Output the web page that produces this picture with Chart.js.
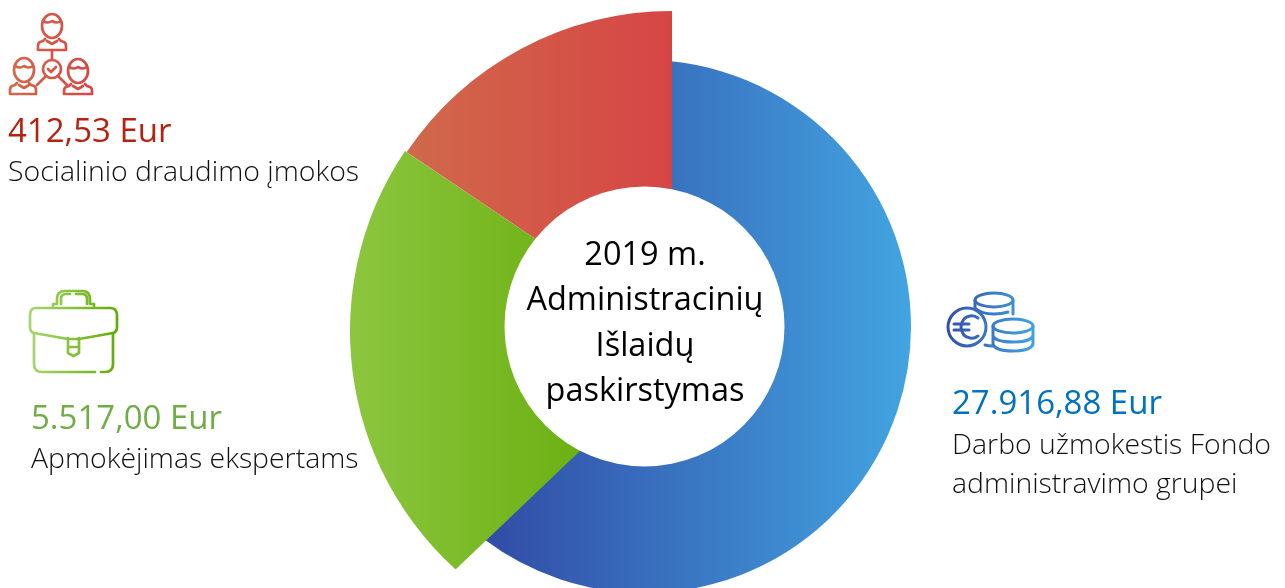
<!DOCTYPE html>
<html lang="lt">
<head>
<meta charset="utf-8">
<title>2019 m. Administracinių Išlaidų paskirstymas</title>
<script src="https://cdn.jsdelivr.net/npm/chart.js@4"></script>
<style>
html,body{margin:0;padding:0;background:#fff;overflow:hidden}
#stage{position:relative;width:1285px;height:588px;overflow:hidden}
canvas{position:absolute;left:0;top:0}
svg{position:absolute;left:0;top:0}
.t{position:absolute;white-space:nowrap;line-height:1;font-family:"Open Sans",sans-serif}
.amt{font-size:33px;font-weight:400}
.desc{font-size:28.4px;font-weight:300;color:#111}
.ctr{font-size:32.5px;font-weight:400;color:#000;text-align:center;width:280px;left:505px}
</style>
</head>
<body>
<div id="stage">
<canvas id="c" width="1285" height="588"></canvas>
<svg width="1285" height="588" fill="none" stroke-linecap="round" stroke-linejoin="round">
<defs>
<linearGradient id="gr" gradientUnits="userSpaceOnUse" x1="10" x2="94" y1="0" y2="0"><stop offset="0" stop-color="#d2694b"/><stop offset="1" stop-color="#d64545"/></linearGradient>
<linearGradient id="gg" gradientUnits="userSpaceOnUse" x1="30" x2="117" y1="0" y2="0"><stop offset="0" stop-color="#a8d66e"/><stop offset="1" stop-color="#62ac08"/></linearGradient>
<linearGradient id="gb" gradientUnits="userSpaceOnUse" x1="947" x2="1034" y1="0" y2="0"><stop offset="0" stop-color="#3350a8"/><stop offset="1" stop-color="#42a3e0"/></linearGradient>
</defs>
<g stroke="url(#gr)" stroke-width="2.7">
<ellipse cx="52" cy="26" rx="10" ry="12"/><path d="M43 21q5 3 9 0q5 3 9 0"/>
<path d="M45 39l-2 2l-3 1q-2 1-2 4v4h28v-4q0-3-2-4l-3-1l-2-2M47 41l5 3l5-3"/>
<path d="M52 50v10"/><circle cx="52" cy="69" r="9"/><path d="M48 69l3 3l5-5"/>
<path d="M46 76l-9 9M58 76l9 9"/>
<ellipse cx="24" cy="70" rx="10" ry="12"/><path d="M15 66q5 3 9 0q5 3 9 0"/>
<path d="M17 83l-2 2l-3 1q-2 1-2 4v4h26v-4q0-3-2-4l-3-1l-2-2M19 85l5 3l5-3"/>
<ellipse cx="78" cy="71" rx="10" ry="12"/><path d="M69 67q5 3 9 0q5 3 9 0"/>
<path d="M71 84l-2 2l-3 1q-2 1-2 4v3h28v-3q0-3-2-4l-3-1l-2-2M73 86l5 3l5-3"/>
</g>
<g stroke="url(#gg)" stroke-width="2.7">
<path d="M53 306v-2h4v-5q0-8 8-8h17q8 0 8 8v5h4v2M61 304v-5q0-5 5-5h4M76 294h6q5 0 5 5v5"/>
<path d="M36 308h74q7 0 7 7v12q0 5-4 6l-34 6H68l-34-6q-4-1-4-6v-12q0-7 6-7z"/>
<path d="M34 333v31q0 8 8 8h53M101 372h4q8 0 8-8v-31"/>
<path d="M68 338v15l5.500 3l5.500-3v-15M68 347h11"/>
</g>
<g stroke="url(#gb)" stroke-width="3">
<circle cx="967" cy="327" r="19"/>
<path d="M978 318q-4-3-8-2q-8 1-9 11q1 10 9 11q4 1 8-2M954 324h15M954 330h15"/>
<ellipse cx="994" cy="300" rx="19" ry="7"/>
<path d="M975 300v8M1013 300v14M975 308q6 6 19 6q8 0 14-2M985 345q3 1 8 1"/>
<ellipse cx="1013" cy="326" rx="20" ry="7"/>
<path d="M993 326v18q2 7 20 7q18 0 20-7v-18M993 336q3 6 20 6q17 0 20-6"/>
</g>
</svg>
<div class="t amt" id="a0" style="left:8px;top:113px;color:#b5220f"></div>
<div class="t desc" id="d0" style="left:8px;top:156px"></div>
<div class="t amt" id="a1" style="left:31px;top:400px;color:#70ad47"></div>
<div class="t desc" id="d1" style="left:31px;top:443px"></div>
<div class="t amt" id="a2" style="left:952px;top:385px;color:#0070c0"></div>
<div class="t desc" id="d2" style="left:952px;top:429px"></div>
<div class="t desc" id="d3" style="left:952px;top:468px"></div>
<div class="t ctr" style="top:237px">2019 m.</div>
<div class="t ctr" style="top:282px">Administracinių</div>
<div class="t ctr" style="top:328px">Išlaidų</div>
<div class="t ctr" style="top:373px">paskirstymas</div>
</div>
<script>
// Slice order: drawn first to last, each over the previous one.
const categories = ["Darbo užmokestis Fondo administravimo grupei", "Apmokėjimas ekspertams", "Socialinio draudimo įmokos"];
// Slice sweep, in degrees (the drawing is not proportional to the amounts).
const sliceSweep = [217, 87, 56];
const amountLabels = ["27.916,88 Eur", "5.517,00 Eur", "412,53 Eur"];

document.getElementById('a2').textContent = amountLabels[0];
document.getElementById('a1').textContent = amountLabels[1];
document.getElementById('a0').textContent = amountLabels[2];
document.getElementById('d2').textContent = "Darbo užmokestis Fondo";
document.getElementById('d3').textContent = "administravimo grupei";
document.getElementById('d1').textContent = categories[1];
document.getElementById('d0').textContent = categories[2];

const canvas = document.getElementById('c');
const ctx = canvas.getContext('2d');
function hGrad(x0, c0, x1, c1) {
  const g = ctx.createLinearGradient(x0, 0, x1, 0);
  g.addColorStop(0, c0); g.addColorStop(1, c1);
  return g;
}
const sliceFills = [
  hGrad(487, '#324ca6', 911, '#42a4e1'),
  hGrad(350, '#8cc63f', 581, '#6cb012'),
  hGrad(407, '#d0694a', 672, '#d64545')
];
// Each slice in the reference is a separate wedge with its own centre and radius.
const wedgeGeometry = [
  { x: 644.5, y: 326.5, r: 266.5 },
  { x: 672, y: 331, r: 322, clip: [[900,146],[200,813],[-100,813],[-100,-100],[900,-100]] },
  { x: 672, y: 331, r: 320 }
];
const hole = { x: 644.5, y: 326.5, r: 140 };

const explodedWedges = {
  id: 'explodedWedges',
  beforeDatasetsDraw(chart) {
    chart.getDatasetMeta(0).data.forEach((arc, i) => {
      const g = wedgeGeometry[i];
      arc.x = g.x; arc.y = g.y; arc.outerRadius = g.r; arc.innerRadius = 0;
      if (g.clip && !arc._wrapped) {
        const draw = arc.draw;
        arc.draw = function (c, area) {
          c.save(); c.beginPath();
          g.clip.forEach((p, k) => k ? c.lineTo(p[0], p[1]) : c.moveTo(p[0], p[1]));
          c.closePath(); c.clip();
          draw.call(this, c, area);
          c.restore();
        };
        arc._wrapped = true;
      }
    });
  },
  afterDatasetsDraw(chart) {
    const c = chart.ctx;
    c.save(); c.fillStyle = '#fff'; c.beginPath();
    c.arc(hole.x, hole.y, hole.r, 0, Math.PI * 2); c.fill(); c.restore();
  }
};

new Chart(ctx, {
  type: 'doughnut',
  data: { labels: categories, datasets: [{ data: sliceSweep, backgroundColor: sliceFills, borderWidth: 0 }] },
  options: {
    responsive: false, animation: false, events: [], cutout: 0,
    layout: { padding: 0 },
    plugins: { legend: { display: false }, tooltip: { enabled: false } }
  },
  plugins: [explodedWedges]
});
</script>
</body>
</html>
